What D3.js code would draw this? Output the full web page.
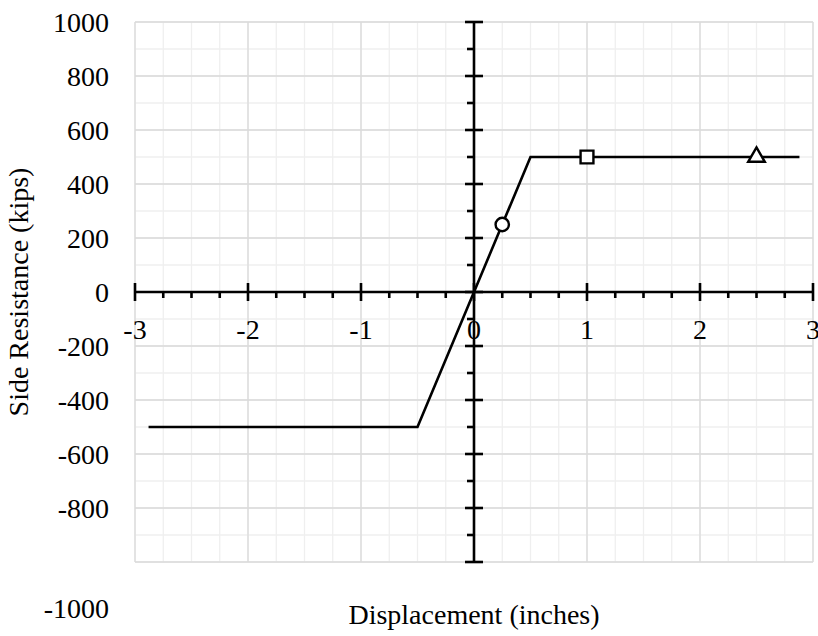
<!DOCTYPE html>
<html><head><meta charset="utf-8">
<script src="https://cdn.jsdelivr.net/npm/d3@7"></script>
<style>html,body{margin:0;padding:0;background:#fff;}svg{display:block;}</style>
</head><body>
<svg id="chart" width="818" height="636"></svg>
<script>
// Data
const curveX = [-2.88, -0.5, 0.5, 2.88];
const curveY = [-500, -500, 500, 500];
const markerNames = ["circle", "square", "triangle"];
const markerX = [0.25, 1, 2.5];
const markerY = [250, 500, 500];
const xTickLabels = [-3, -2, -1, 0, 1, 2, 3];
const yTickLabels = [1000, 800, 600, 400, 200, 0, -200, -400, -600, -800, -1000];
const xTitle = "Displacement (inches)";
const yTitle = "Side  Resistance (kips)";

const svg = d3.select("#chart");
const font = "Liberation Serif";
const x = d3.scaleLinear().domain([-3, 3]).range([135, 813]);
const y = d3.scaleLinear().domain([-1000, 1000]).range([562, 22]);

// gridlines
const g = svg.append("g");
const xMinor = d3.range(-3, 3.001, 0.25);
const yMinor = d3.range(-1000, 1000.1, 100);
g.selectAll(".vx").data(xMinor).join("line")
  .attr("x1", d => x(d)).attr("x2", d => x(d)).attr("y1", y(1000)).attr("y2", y(-1000))
  .attr("stroke", "#efefef").attr("stroke-width", 1.3);
g.selectAll(".hy").data(yMinor).join("line")
  .attr("y1", d => y(d)).attr("y2", d => y(d)).attr("x1", x(-3)).attr("x2", x(3))
  .attr("stroke", "#efefef").attr("stroke-width", 1.3);
g.selectAll(".vxm").data(xTickLabels).join("line")
  .attr("x1", d => x(d)).attr("x2", d => x(d)).attr("y1", y(1000)).attr("y2", y(-1000))
  .attr("stroke", "#dadada").attr("stroke-width", 1.3);
g.selectAll(".hym").data(yTickLabels).join("line")
  .attr("y1", d => y(d)).attr("y2", d => y(d)).attr("x1", x(-3)).attr("x2", x(3))
  .attr("stroke", "#dadada").attr("stroke-width", 1.3);

// tick labels
svg.append("g").selectAll("text").data(xTickLabels).join("text")
  .attr("x", d => x(d)).attr("y", y(0) + 47)
  .attr("text-anchor", "middle").attr("font-family", font).attr("font-size", 28).attr("fill", "#000")
  .text(d => d);
svg.append("g").selectAll("text").data(yTickLabels).join("text")
  .attr("x", 109).attr("y", d => y(d) + (d === -1000 ? 46 : 0))
  .attr("dy", "0.35em")
  .attr("text-anchor", "end").attr("font-family", font).attr("font-size", 28).attr("fill", "#000")
  .text(d => d);

// axes
const ax = svg.append("g").attr("stroke", "#000").attr("stroke-width", 2.6);
ax.append("line").attr("x1", x(-3)).attr("x2", x(3)).attr("y1", y(0)).attr("y2", y(0));
ax.append("line").attr("x1", x(0)).attr("x2", x(0)).attr("y1", y(1000)).attr("y2", y(-1000));
const xMinorTicks = xMinor.filter(d => Math.abs(d - Math.round(d)) > 1e-6);
ax.selectAll(".xmt").data(xMinorTicks).join("line")
  .attr("x1", d => x(d)).attr("x2", d => x(d)).attr("y1", y(0)).attr("y2", y(0) + 6);
ax.selectAll(".xMt").data(xTickLabels).join("line")
  .attr("x1", d => x(d)).attr("x2", d => x(d)).attr("y1", y(0) - 9).attr("y2", y(0) + 9);
const yMinorTicks = yMinor.filter(d => Math.abs(d % 200) > 1e-6);
ax.selectAll(".ymt").data(yMinorTicks).join("line")
  .attr("y1", d => y(d)).attr("y2", d => y(d)).attr("x1", x(0) - 7).attr("x2", x(0));
ax.selectAll(".yMt").data(yTickLabels).join("line")
  .attr("y1", d => y(d)).attr("y2", d => y(d)).attr("x1", x(0) - 9).attr("x2", x(0) + 9);

// series line
const pts = curveX.map((d, i) => [d, curveY[i]]);
svg.append("path").datum(pts)
  .attr("d", d3.line().x(d => x(d[0])).y(d => y(d[1])))
  .attr("fill", "none").attr("stroke", "#000").attr("stroke-width", 2.6).attr("stroke-linejoin", "miter");

// markers
const symType = {circle: d3.symbolCircle, square: d3.symbolSquare, triangle: d3.symbolTriangle};
const symSize = {circle: 140, square: 165, triangle: 120};
svg.append("g").selectAll("path").data(markerNames).join("path")
  .attr("transform", (d, i) => `translate(${x(markerX[i])},${y(markerY[i])})`)
  .attr("d", d => d3.symbol().type(symType[d]).size(symSize[d])())
  .attr("fill", "#fff").attr("stroke", "#000").attr("stroke-width", 2.4);

// titles
svg.append("text").attr("x", x(0)).attr("y", 624)
  .attr("text-anchor", "middle").attr("font-family", font).attr("font-size", 28).text(xTitle);
svg.append("text").attr("transform", `translate(28,${y(0)}) rotate(-90)`)
  .attr("text-anchor", "middle").attr("font-family", font).attr("font-size", 28).text(yTitle);
</script>
</body></html>
